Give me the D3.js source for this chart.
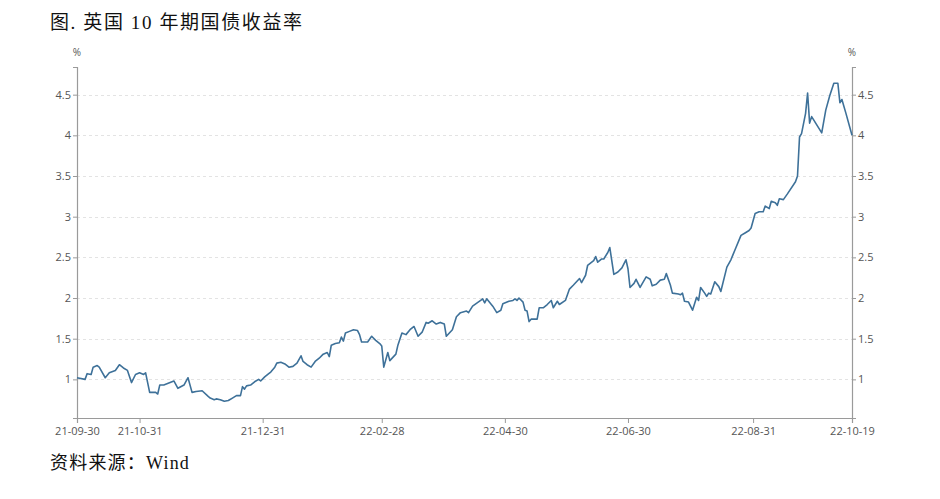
<!DOCTYPE html>
<html>
<head>
<meta charset="utf-8">
<script src="https://cdn.jsdelivr.net/npm/d3@7/dist/d3.min.js"></script>
<style>
  body { margin: 0; background: #fff; }
</style>
</head>
<body>
<script>
// UK 10y gilt yield
var dates = [
  '2021-09-30','2021-10-04','2021-10-05','2021-10-07','2021-10-08','2021-10-10','2021-10-11','2021-10-14','2021-10-16','2021-10-19',
  '2021-10-21','2021-10-23','2021-10-25','2021-10-27','2021-10-29','2021-10-31','2021-11-02','2021-11-03','2021-11-05','2021-11-08',
  '2021-11-09','2021-11-10','2021-11-12','2021-11-17','2021-11-19','2021-11-22','2021-11-24','2021-11-26','2021-11-28','2021-12-01',
  '2021-12-04','2021-12-05','2021-12-07','2021-12-08','2021-12-10','2021-12-12','2021-12-14','2021-12-16','2021-12-18','2021-12-20',
  '2021-12-21','2021-12-22','2021-12-23','2021-12-25','2021-12-27','2021-12-29','2021-12-30','2022-01-01','2022-01-03','2022-01-04',
  '2022-01-06','2022-01-07','2022-01-09','2022-01-11','2022-01-13','2022-01-15','2022-01-17','2022-01-19','2022-01-20','2022-01-22',
  '2022-01-24','2022-01-26','2022-01-28','2022-01-30','2022-02-01','2022-02-02','2022-02-03','2022-02-05','2022-02-07','2022-02-08',
  '2022-02-09','2022-02-10','2022-02-12','2022-02-14','2022-02-16','2022-02-17','2022-02-18','2022-02-21','2022-02-23','2022-02-25',
  '2022-02-27','2022-02-28','2022-03-01','2022-03-03','2022-03-04','2022-03-07','2022-03-08','2022-03-10','2022-03-12','2022-03-14',
  '2022-03-16','2022-03-18','2022-03-20','2022-03-22','2022-03-23','2022-03-25','2022-03-27','2022-03-29','2022-03-31','2022-04-01',
  '2022-04-04','2022-04-06','2022-04-08','2022-04-11','2022-04-12','2022-04-14','2022-04-18','2022-04-19','2022-04-20','2022-04-21',
  '2022-04-24','2022-04-26','2022-04-28','2022-04-29','2022-05-02','2022-05-04','2022-05-05','2022-05-06','2022-05-07','2022-05-09',
  '2022-05-10','2022-05-11','2022-05-12','2022-05-13','2022-05-16','2022-05-17','2022-05-19','2022-05-21','2022-05-23','2022-05-24',
  '2022-05-26','2022-05-27','2022-05-30','2022-06-01','2022-06-03','2022-06-06','2022-06-07','2022-06-09','2022-06-10','2022-06-13',
  '2022-06-14','2022-06-15','2022-06-17','2022-06-18','2022-06-20','2022-06-21','2022-06-23','2022-06-25','2022-06-27','2022-06-29',
  '2022-06-30','2022-07-01','2022-07-03','2022-07-04','2022-07-06','2022-07-09','2022-07-11','2022-07-12','2022-07-14','2022-07-16',
  '2022-07-18','2022-07-19','2022-07-21','2022-07-22','2022-07-25','2022-07-26','2022-07-27','2022-07-28','2022-07-30','2022-07-31',
  '2022-08-01','2022-08-02','2022-08-03','2022-08-04','2022-08-05','2022-08-07','2022-08-08','2022-08-09','2022-08-10','2022-08-12',
  '2022-08-14','2022-08-15','2022-08-18','2022-08-20','2022-08-21','2022-08-22','2022-08-25','2022-08-27','2022-08-29','2022-08-30',
  '2022-09-01','2022-09-03','2022-09-05','2022-09-06','2022-09-08','2022-09-09','2022-09-11','2022-09-12','2022-09-13','2022-09-15',
  '2022-09-17','2022-09-21','2022-09-22','2022-09-23','2022-09-24','2022-09-26','2022-09-27','2022-09-28','2022-09-29','2022-10-04',
  '2022-10-06','2022-10-08','2022-10-10','2022-10-12','2022-10-13','2022-10-14','2022-10-16','2022-10-19'
];

var yields = [
  1.02,1.00,1.07,1.06,1.15,1.17,1.15,1.02,1.08,1.11,
  1.18,1.14,1.11,0.96,1.06,1.08,1.06,1.08,0.84,0.84,
  0.82,0.93,0.93,0.98,0.89,0.93,1.02,0.84,0.85,0.86,
  0.79,0.77,0.75,0.76,0.75,0.73,0.74,0.77,0.80,0.80,
  0.91,0.88,0.92,0.93,0.97,1.00,0.98,1.03,1.07,1.09,
  1.15,1.20,1.21,1.19,1.15,1.16,1.20,1.29,1.22,1.18,
  1.15,1.22,1.26,1.31,1.33,1.28,1.42,1.44,1.45,1.52,
  1.47,1.57,1.59,1.61,1.60,1.55,1.46,1.46,1.53,1.48,
  1.44,1.41,1.15,1.33,1.23,1.31,1.42,1.57,1.55,1.61,
  1.65,1.53,1.58,1.70,1.69,1.72,1.68,1.70,1.68,1.53,
  1.61,1.77,1.82,1.84,1.82,1.90,1.97,1.99,1.94,1.99,
  1.90,1.82,1.85,1.93,1.96,1.97,1.99,1.97,2.00,1.95,
  1.85,1.84,1.71,1.74,1.74,1.88,1.88,1.92,1.97,1.88,
  1.96,1.92,1.97,2.11,2.16,2.24,2.19,2.28,2.40,2.46,
  2.51,2.44,2.48,2.48,2.56,2.62,2.29,2.32,2.37,2.47,
  2.36,2.13,2.18,2.23,2.13,2.26,2.23,2.15,2.17,2.22,
  2.23,2.30,2.16,2.06,2.05,2.04,2.06,1.96,1.95,1.90,
  1.85,1.93,2.01,1.97,2.13,2.06,2.02,2.06,2.05,2.20,
  2.14,2.08,2.38,2.47,2.53,2.59,2.77,2.80,2.83,2.86,
  3.04,3.06,3.06,3.13,3.10,3.19,3.17,3.14,3.22,3.21,
  3.28,3.43,3.50,3.98,4.02,4.27,4.52,4.15,4.23,4.03,
  4.31,4.49,4.64,4.64,4.40,4.44,4.27,4.00
];

var xTicks = ['2021-09-30','2021-10-31','2021-12-31','2022-02-28','2022-04-30','2022-06-30','2022-08-31','2022-10-19'];
var yTicks = [1, 1.5, 2, 2.5, 3, 3.5, 4, 4.5];

var W = 940, H = 499;
var plotLeft = 77, plotRight = 852, plotTop = 67, plotBottom = 418;

var parse = d3.timeParse('%Y-%m-%d');
var fmt = d3.timeFormat('%y-%m-%d');

var data = dates.map(function(d, i) { return { date: parse(d), v: yields[i] }; });

var svg = d3.select('body').append('svg')
  .attr('width', W)
  .attr('height', H);

var x = d3.scaleTime()
  .domain([parse(dates[0]), parse(dates[dates.length - 1])])
  .range([plotLeft, plotRight]);

var y = d3.scaleLinear()
  .domain([0.525, 4.84])
  .range([plotBottom, plotTop]);

// title
svg.append('text')
  .attr('x', 50)
  .attr('y', 29)
  .attr('font-family', '"Liberation Serif", "Noto Sans CJK SC", serif')
  .attr('font-size', 19)
  .attr('letter-spacing', 1.6)
  .attr('fill', '#111')
  .text('图. 英国 10 年期国债收益率');

// dashed grid
svg.append('g')
  .selectAll('line')
  .data(yTicks)
  .enter().append('line')
  .attr('x1', plotLeft)
  .attr('x2', plotRight)
  .attr('y1', function(d) { return Math.round(y(d)) + 0.5; })
  .attr('y2', function(d) { return Math.round(y(d)) + 0.5; })
  .attr('stroke', '#e3e3e3')
  .attr('stroke-dasharray', '3,3');

var axisColor = '#9a9a9a';
var labelColor = '#555';

var yLeft = svg.append('g')
  .attr('transform', 'translate(' + plotLeft + ',0)')
  .call(d3.axisLeft(y).tickValues(yTicks).tickSize(4).tickPadding(2).tickFormat(d3.format('')));

var yRight = svg.append('g')
  .attr('transform', 'translate(' + plotRight + ',0)')
  .call(d3.axisRight(y).tickValues(yTicks).tickSize(4).tickPadding(2).tickFormat(d3.format('')));

var xAxis = svg.append('g')
  .attr('transform', 'translate(0,' + plotBottom + ')')
  .call(d3.axisBottom(x).tickValues(xTicks.map(parse)).tickSize(5).tickPadding(4).tickFormat(fmt));

[yLeft, yRight, xAxis].forEach(function(g) {
  g.select('.domain').attr('stroke', axisColor).attr('stroke-width', 1.2);
  g.selectAll('.tick line').attr('stroke', axisColor);
  g.selectAll('.tick text')
    .attr('fill', labelColor)
    .attr('font-family', '"Open Sans", "Noto Sans", sans-serif')
    .attr('font-size', 11);
});

// unit labels
svg.append('text')
  .attr('x', plotLeft)
  .attr('y', 56)
  .attr('text-anchor', 'middle')
  .attr('font-family', '"Open Sans", sans-serif')
  .attr('font-size', 10)
  .attr('fill', labelColor)
  .text('%');

svg.append('text')
  .attr('x', plotRight)
  .attr('y', 56)
  .attr('text-anchor', 'middle')
  .attr('font-family', '"Open Sans", sans-serif')
  .attr('font-size', 10)
  .attr('fill', labelColor)
  .text('%');

var line = d3.line()
  .x(function(d) { return x(d.date); })
  .y(function(d) { return y(d.v); });

svg.append('path')
  .datum(data)
  .attr('d', line)
  .attr('fill', 'none')
  .attr('stroke', '#3e7199')
  .attr('stroke-width', 1.6)
  .attr('stroke-linejoin', 'round');

// source
svg.append('text')
  .attr('x', 50)
  .attr('y', 469)
  .attr('font-family', '"Liberation Serif", "Noto Sans CJK SC", serif')
  .attr('font-size', 18)
  .attr('letter-spacing', 1.2)
  .attr('fill', '#111')
  .text('资料来源：Wind');
</script>
</body>
</html>
